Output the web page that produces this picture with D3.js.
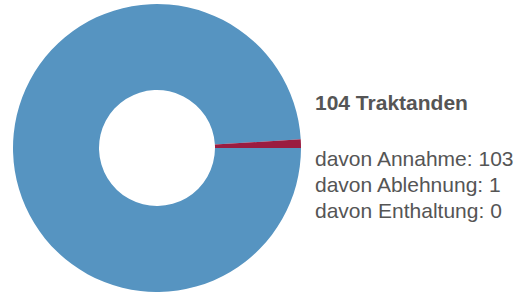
<!DOCTYPE html>
<html>
<head>
<meta charset="utf-8">
<script src="https://cdn.jsdelivr.net/npm/d3@7"></script>
<style>
  body { margin: 0; background: #fff; }
  svg { display: block; font-family: "Liberation Sans", Arial, sans-serif; }
</style>
</head>
<body>
<svg class="chart"></svg>
<script>
// DATA /////////////////////////////////
const categories = ["Annahme", "Ablehnung", "Enthaltung"];
const counts = [103, 1, 0];
const total = 104;
const title = `${total} Traktanden`;
const lineLabels = categories.map((c, i) => `davon ${c}: ${counts[i]}`);

// DEFINITIONS //////////////////////////
const width = 524;
const height = 292;
const center = { x: 157, y: 148 };

const svg = d3.select(".chart").attr("width", width).attr("height", height);

const colors = d3.scaleOrdinal().domain(categories).range(["#5694c1", "#9b1c40", "#c9c9c9"]);

const pie = d3
  .pie()
  .sort(null)
  .startAngle(Math.PI / 2)
  .endAngle(Math.PI / 2 + 2 * Math.PI)
  .value((d) => d.count);

const arc = d3.arc().innerRadius(58).outerRadius(144);

const data = categories.map((c, i) => ({ cat: c, count: counts[i] }));

const pieContainer = svg
  .append("g")
  .attr("transform", `translate(${center.x}, ${center.y})`);

pieContainer
  .selectAll(".arc")
  .data(pie(data).filter((d) => d.data.count > 0))
  .enter()
  .append("path")
  .attr("class", "arc")
  .attr("d", arc)
  .style("fill", (d) => colors(d.data.cat));

// LEGEND TEXT //////////////////////////
const text = svg.append("g").attr("transform", "translate(315, 0)").style("fill", "#555");

text
  .append("text")
  .attr("y", 110)
  .style("font-size", "21px")
  .style("font-weight", "bold")
  .text(title);

text
  .selectAll(".line")
  .data(lineLabels)
  .enter()
  .append("text")
  .attr("class", "line")
  .attr("y", (d, i) => 166 + i * 26)
  .style("font-size", "21px")
  .text((d) => d);
</script>
</body>
</html>
